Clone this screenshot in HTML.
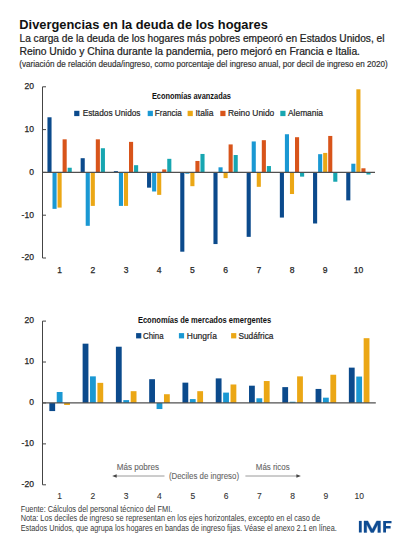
<!DOCTYPE html>
<html><head><meta charset="utf-8"><style>
html,body{margin:0;padding:0;background:#fff;width:411px;height:548px;overflow:hidden}
svg{display:block;font-family:"Liberation Sans",sans-serif}
</style></head><body>
<svg width="411" height="548" viewBox="0 0 411 548">
<rect width="411" height="548" fill="#fff"/>
<text x="19.3" y="28.6" font-size="13.7" fill="#111" font-weight="bold" textLength="248.5" lengthAdjust="spacingAndGlyphs">Divergencias en la deuda de los hogares</text>
<text x="19.5" y="42.4" font-size="10" fill="#222" textLength="365" lengthAdjust="spacingAndGlyphs" stroke="#222" stroke-width="0.22">La carga de la deuda de los hogares más pobres empeoró en Estados Unidos, el</text>
<text x="19.5" y="55.0" font-size="10" fill="#222" textLength="340.5" lengthAdjust="spacingAndGlyphs" stroke="#222" stroke-width="0.22">Reino Unido y China durante la pandemia, pero mejoró en Francia e Italia.</text>
<text x="19.3" y="67.1" font-size="8.2" fill="#333" textLength="368.5" lengthAdjust="spacingAndGlyphs" stroke="#333" stroke-width="0.18">(variación de relación deuda/ingreso, como porcentaje del ingreso anual, por decil de ingreso en 2020)</text>
<line x1="42.5" y1="86.8" x2="42.5" y2="258.0" stroke="#444" stroke-width="1"/>
<line x1="42.5" y1="86.8" x2="46.0" y2="86.8" stroke="#444" stroke-width="1"/>
<text x="33.9" y="89.1" font-size="8.5" fill="#262626" text-anchor="end" stroke="#262626" stroke-width="0.25">20</text>
<line x1="42.5" y1="129.6" x2="46.0" y2="129.6" stroke="#444" stroke-width="1"/>
<text x="33.9" y="131.9" font-size="8.5" fill="#262626" text-anchor="end" stroke="#262626" stroke-width="0.25">10</text>
<line x1="42.5" y1="172.4" x2="46.0" y2="172.4" stroke="#444" stroke-width="1"/>
<text x="33.9" y="174.70000000000002" font-size="8.5" fill="#262626" text-anchor="end" stroke="#262626" stroke-width="0.25">0</text>
<line x1="42.5" y1="215.20000000000002" x2="46.0" y2="215.20000000000002" stroke="#444" stroke-width="1"/>
<text x="33.9" y="217.50000000000003" font-size="8.5" fill="#262626" text-anchor="end" stroke="#262626" stroke-width="0.25">-10</text>
<line x1="42.5" y1="258.0" x2="46.0" y2="258.0" stroke="#444" stroke-width="1"/>
<text x="33.9" y="260.3" font-size="8.5" fill="#262626" text-anchor="end" stroke="#262626" stroke-width="0.25">-20</text>
<rect x="47.45" y="117.28" width="4.10" height="55.12" fill="#0B4A8C"/>
<rect x="52.50" y="172.40" width="4.10" height="36.46" fill="#1A98D3"/>
<rect x="57.55" y="172.40" width="4.10" height="35.19" fill="#EBA715"/>
<rect x="62.60" y="139.33" width="4.10" height="33.07" fill="#D8541A"/>
<rect x="67.65" y="167.74" width="4.10" height="4.66" fill="#17A6B1"/>
<text x="59.6" y="273" font-size="8.5" fill="#262626" text-anchor="middle" stroke="#262626" stroke-width="0.25">1</text>
<rect x="80.65" y="158.20" width="4.10" height="14.20" fill="#0B4A8C"/>
<rect x="85.70" y="172.40" width="4.10" height="53.42" fill="#1A98D3"/>
<rect x="90.75" y="172.40" width="4.10" height="33.50" fill="#EBA715"/>
<rect x="95.80" y="139.33" width="4.10" height="33.07" fill="#D8541A"/>
<rect x="100.85" y="148.23" width="4.10" height="24.17" fill="#17A6B1"/>
<text x="92.80000000000001" y="273" font-size="8.5" fill="#262626" text-anchor="middle" stroke="#262626" stroke-width="0.25">2</text>
<rect x="113.85" y="171.13" width="4.10" height="1.27" fill="#0B4A8C"/>
<rect x="118.90" y="172.40" width="4.10" height="33.50" fill="#1A98D3"/>
<rect x="123.95" y="172.40" width="4.10" height="33.50" fill="#EBA715"/>
<rect x="129.00" y="141.87" width="4.10" height="30.53" fill="#D8541A"/>
<rect x="134.05" y="165.19" width="4.10" height="7.21" fill="#17A6B1"/>
<text x="126.0" y="273" font-size="8.5" fill="#262626" text-anchor="middle" stroke="#262626" stroke-width="0.25">3</text>
<rect x="147.05" y="172.40" width="4.10" height="15.26" fill="#0B4A8C"/>
<rect x="152.10" y="172.40" width="4.10" height="19.08" fill="#1A98D3"/>
<rect x="157.15" y="172.40" width="4.10" height="22.47" fill="#EBA715"/>
<rect x="162.20" y="169.43" width="4.10" height="2.97" fill="#D8541A"/>
<rect x="167.25" y="158.83" width="4.10" height="13.57" fill="#17A6B1"/>
<text x="159.20000000000002" y="273" font-size="8.5" fill="#262626" text-anchor="middle" stroke="#262626" stroke-width="0.25">4</text>
<rect x="180.25" y="172.40" width="4.10" height="79.29" fill="#0B4A8C"/>
<rect x="185.30" y="172.40" width="4.10" height="1.27" fill="#1A98D3"/>
<rect x="190.35" y="172.40" width="4.10" height="13.78" fill="#EBA715"/>
<rect x="195.40" y="160.95" width="4.10" height="11.45" fill="#D8541A"/>
<rect x="200.45" y="153.96" width="4.10" height="18.44" fill="#17A6B1"/>
<text x="192.4" y="273" font-size="8.5" fill="#262626" text-anchor="middle" stroke="#262626" stroke-width="0.25">5</text>
<rect x="213.45" y="172.40" width="4.10" height="71.66" fill="#0B4A8C"/>
<rect x="218.50" y="167.31" width="4.10" height="5.09" fill="#1A98D3"/>
<rect x="223.55" y="172.40" width="4.10" height="5.72" fill="#EBA715"/>
<rect x="228.60" y="144.42" width="4.10" height="27.98" fill="#D8541A"/>
<rect x="233.65" y="155.02" width="4.10" height="17.38" fill="#17A6B1"/>
<text x="225.60000000000002" y="273" font-size="8.5" fill="#262626" text-anchor="middle" stroke="#262626" stroke-width="0.25">6</text>
<rect x="246.65" y="172.40" width="4.10" height="64.45" fill="#0B4A8C"/>
<rect x="251.70" y="141.45" width="4.10" height="30.95" fill="#1A98D3"/>
<rect x="256.75" y="172.40" width="4.10" height="14.42" fill="#EBA715"/>
<rect x="261.80" y="140.18" width="4.10" height="32.22" fill="#D8541A"/>
<rect x="266.85" y="166.04" width="4.10" height="6.36" fill="#17A6B1"/>
<text x="258.8" y="273" font-size="8.5" fill="#262626" text-anchor="middle" stroke="#262626" stroke-width="0.25">7</text>
<rect x="279.85" y="172.40" width="4.10" height="45.16" fill="#0B4A8C"/>
<rect x="284.90" y="134.24" width="4.10" height="38.16" fill="#1A98D3"/>
<rect x="289.95" y="172.40" width="4.10" height="21.62" fill="#EBA715"/>
<rect x="295.00" y="137.21" width="4.10" height="35.19" fill="#D8541A"/>
<rect x="300.05" y="172.40" width="4.10" height="4.24" fill="#17A6B1"/>
<text x="292.0" y="273" font-size="8.5" fill="#262626" text-anchor="middle" stroke="#262626" stroke-width="0.25">8</text>
<rect x="313.05" y="172.40" width="4.10" height="51.09" fill="#0B4A8C"/>
<rect x="318.10" y="154.17" width="4.10" height="18.23" fill="#1A98D3"/>
<rect x="323.15" y="152.90" width="4.10" height="19.50" fill="#EBA715"/>
<rect x="328.20" y="135.94" width="4.10" height="36.46" fill="#D8541A"/>
<rect x="333.25" y="172.40" width="4.10" height="9.33" fill="#17A6B1"/>
<text x="325.20000000000005" y="273" font-size="8.5" fill="#262626" text-anchor="middle" stroke="#262626" stroke-width="0.25">9</text>
<rect x="346.25" y="172.40" width="4.10" height="27.98" fill="#0B4A8C"/>
<rect x="351.30" y="163.71" width="4.10" height="8.69" fill="#1A98D3"/>
<rect x="356.35" y="89.30" width="4.10" height="83.10" fill="#EBA715"/>
<rect x="361.40" y="168.29" width="4.10" height="4.11" fill="#D8541A"/>
<rect x="366.45" y="172.40" width="4.10" height="2.12" fill="#17A6B1"/>
<text x="358.40000000000003" y="273" font-size="8.5" fill="#262626" text-anchor="middle" stroke="#262626" stroke-width="0.25">10</text>
<line x1="42.5" y1="172.4" x2="375" y2="172.4" stroke="#505050" stroke-width="1.2"/>
<text x="151.9" y="99.4" font-size="8.7" fill="#111" font-weight="bold" textLength="79" lengthAdjust="spacingAndGlyphs">Economías avanzadas</text>
<rect x="74.20" y="110.80" width="5.20" height="5.30" fill="#0B4A8C"/>
<text x="82.7" y="116.2" font-size="9.4" fill="#262626" textLength="57.8" lengthAdjust="spacingAndGlyphs" stroke="#262626" stroke-width="0.22">Estados Unidos</text>
<rect x="147.70" y="110.80" width="5.20" height="5.30" fill="#1A98D3"/>
<text x="154.7" y="116.2" font-size="9.4" fill="#262626" textLength="27.200000000000017" lengthAdjust="spacingAndGlyphs" stroke="#262626" stroke-width="0.22">Francia</text>
<rect x="187.60" y="110.80" width="5.20" height="5.30" fill="#EBA715"/>
<text x="195.5" y="116.2" font-size="9.4" fill="#262626" textLength="18" lengthAdjust="spacingAndGlyphs" stroke="#262626" stroke-width="0.22">Italia</text>
<rect x="220.30" y="110.80" width="5.20" height="5.30" fill="#D8541A"/>
<text x="228.0" y="116.2" font-size="9.4" fill="#262626" textLength="46.30000000000001" lengthAdjust="spacingAndGlyphs" stroke="#262626" stroke-width="0.22">Reino Unido</text>
<rect x="280.30" y="110.80" width="5.20" height="5.30" fill="#17A6B1"/>
<text x="288.0" y="116.2" font-size="9.4" fill="#262626" textLength="35.0" lengthAdjust="spacingAndGlyphs" stroke="#262626" stroke-width="0.22">Alemania</text>
<line x1="42.5" y1="321.09999999999997" x2="42.5" y2="484.8" stroke="#444" stroke-width="1"/>
<line x1="42.5" y1="321.09999999999997" x2="46.0" y2="321.09999999999997" stroke="#444" stroke-width="1"/>
<text x="33.9" y="323.4" font-size="8.5" fill="#262626" text-anchor="end" stroke="#262626" stroke-width="0.25">20</text>
<line x1="42.5" y1="362.025" x2="46.0" y2="362.025" stroke="#444" stroke-width="1"/>
<text x="33.9" y="364.325" font-size="8.5" fill="#262626" text-anchor="end" stroke="#262626" stroke-width="0.25">10</text>
<line x1="42.5" y1="402.95" x2="46.0" y2="402.95" stroke="#444" stroke-width="1"/>
<text x="33.9" y="405.25" font-size="8.5" fill="#262626" text-anchor="end" stroke="#262626" stroke-width="0.25">0</text>
<line x1="42.5" y1="443.875" x2="46.0" y2="443.875" stroke="#444" stroke-width="1"/>
<text x="33.9" y="446.175" font-size="8.5" fill="#262626" text-anchor="end" stroke="#262626" stroke-width="0.25">-10</text>
<line x1="42.5" y1="484.8" x2="46.0" y2="484.8" stroke="#444" stroke-width="1"/>
<text x="33.9" y="487.1" font-size="8.5" fill="#262626" text-anchor="end" stroke="#262626" stroke-width="0.25">-20</text>
<rect x="49.34" y="402.95" width="5.80" height="8.12" fill="#0B4A8C"/>
<rect x="56.74" y="391.99" width="5.80" height="10.96" fill="#1A98D3"/>
<rect x="64.14" y="402.95" width="5.80" height="2.03" fill="#EBA715"/>
<text x="59.64" y="499.3" font-size="8.5" fill="#333" text-anchor="middle" stroke="#333" stroke-width="0.1">1</text>
<rect x="82.62" y="343.67" width="5.80" height="59.28" fill="#0B4A8C"/>
<rect x="90.02" y="376.36" width="5.80" height="26.59" fill="#1A98D3"/>
<rect x="97.42" y="382.85" width="5.80" height="20.10" fill="#EBA715"/>
<text x="92.92" y="499.3" font-size="8.5" fill="#333" text-anchor="middle" stroke="#333" stroke-width="0.1">2</text>
<rect x="115.90" y="346.72" width="5.80" height="56.23" fill="#0B4A8C"/>
<rect x="123.30" y="400.11" width="5.80" height="2.84" fill="#1A98D3"/>
<rect x="130.70" y="391.18" width="5.80" height="11.77" fill="#EBA715"/>
<text x="126.2" y="499.3" font-size="8.5" fill="#333" text-anchor="middle" stroke="#333" stroke-width="0.1">3</text>
<rect x="149.18" y="379.20" width="5.80" height="23.75" fill="#0B4A8C"/>
<rect x="156.58" y="402.95" width="5.80" height="6.09" fill="#1A98D3"/>
<rect x="163.98" y="394.22" width="5.80" height="8.73" fill="#EBA715"/>
<text x="159.48000000000002" y="499.3" font-size="8.5" fill="#333" text-anchor="middle" stroke="#333" stroke-width="0.1">4</text>
<rect x="182.46" y="382.65" width="5.80" height="20.30" fill="#0B4A8C"/>
<rect x="189.86" y="399.09" width="5.80" height="3.86" fill="#1A98D3"/>
<rect x="197.26" y="391.18" width="5.80" height="11.77" fill="#EBA715"/>
<text x="192.76" y="499.3" font-size="8.5" fill="#333" text-anchor="middle" stroke="#333" stroke-width="0.1">5</text>
<rect x="215.74" y="378.39" width="5.80" height="24.56" fill="#0B4A8C"/>
<rect x="223.14" y="392.60" width="5.80" height="10.35" fill="#1A98D3"/>
<rect x="230.54" y="384.48" width="5.80" height="18.47" fill="#EBA715"/>
<text x="226.04000000000002" y="499.3" font-size="8.5" fill="#333" text-anchor="middle" stroke="#333" stroke-width="0.1">6</text>
<rect x="249.02" y="385.69" width="5.80" height="17.25" fill="#0B4A8C"/>
<rect x="256.42" y="398.28" width="5.80" height="4.67" fill="#1A98D3"/>
<rect x="263.82" y="381.03" width="5.80" height="21.92" fill="#EBA715"/>
<text x="259.32" y="499.3" font-size="8.5" fill="#333" text-anchor="middle" stroke="#333" stroke-width="0.1">7</text>
<rect x="282.30" y="387.12" width="5.80" height="15.83" fill="#0B4A8C"/>
<rect x="289.70" y="401.73" width="5.80" height="1.22" fill="#1A98D3"/>
<rect x="297.10" y="376.36" width="5.80" height="26.59" fill="#EBA715"/>
<text x="292.6" y="499.3" font-size="8.5" fill="#333" text-anchor="middle" stroke="#333" stroke-width="0.1">8</text>
<rect x="315.58" y="388.94" width="5.80" height="14.01" fill="#0B4A8C"/>
<rect x="322.98" y="397.67" width="5.80" height="5.28" fill="#1A98D3"/>
<rect x="330.38" y="374.73" width="5.80" height="28.22" fill="#EBA715"/>
<text x="325.88" y="499.3" font-size="8.5" fill="#333" text-anchor="middle" stroke="#333" stroke-width="0.1">9</text>
<rect x="348.86" y="367.63" width="5.80" height="35.32" fill="#0B4A8C"/>
<rect x="356.26" y="376.56" width="5.80" height="26.39" fill="#1A98D3"/>
<rect x="363.66" y="338.19" width="5.80" height="64.76" fill="#EBA715"/>
<text x="359.16" y="499.3" font-size="8.5" fill="#333" text-anchor="middle" stroke="#333" stroke-width="0.1">10</text>
<line x1="42.5" y1="402.95" x2="375.8" y2="402.95" stroke="#505050" stroke-width="1.2"/>
<text x="137.9" y="322.7" font-size="8.7" fill="#111" font-weight="bold" textLength="133.3" lengthAdjust="spacingAndGlyphs">Economías de mercados emergentes</text>
<rect x="136.10" y="333.10" width="5.20" height="5.30" fill="#0B4A8C"/>
<text x="143.0" y="338.5" font-size="9.4" fill="#262626" textLength="20.5" lengthAdjust="spacingAndGlyphs" stroke="#262626" stroke-width="0.22">China</text>
<rect x="178.90" y="333.10" width="5.20" height="5.30" fill="#1A98D3"/>
<text x="186.8" y="338.5" font-size="9.4" fill="#262626" textLength="30.099999999999994" lengthAdjust="spacingAndGlyphs" stroke="#262626" stroke-width="0.22">Hungría</text>
<rect x="231.10" y="333.10" width="5.20" height="5.30" fill="#EBA715"/>
<text x="238.4" y="338.5" font-size="9.4" fill="#262626" textLength="35.099999999999994" lengthAdjust="spacingAndGlyphs" stroke="#262626" stroke-width="0.22">Sudáfrica</text>
<text x="116.8" y="470" font-size="8.8" fill="#666" textLength="42.3" lengthAdjust="spacingAndGlyphs" stroke="#666" stroke-width="0.1">Más pobres</text>
<text x="255.8" y="470" font-size="8.8" fill="#666" textLength="33.9" lengthAdjust="spacingAndGlyphs" stroke="#666" stroke-width="0.1">Más ricos</text>
<text x="168.9" y="478.6" font-size="8.8" fill="#666" textLength="70.2" lengthAdjust="spacingAndGlyphs" stroke="#666" stroke-width="0.1">(Deciles de ingreso)</text>
<line x1="115" y1="476.0" x2="164.5" y2="476.0" stroke="#9a9a9a" stroke-width="1"/>
<path d="M112.2 476 L116.7 474.3 L116.7 477.7 Z" fill="#444"/>
<line x1="245.4" y1="476.0" x2="298" y2="476.0" stroke="#9a9a9a" stroke-width="1"/>
<path d="M300.9 476 L296.4 474.3 L296.4 477.7 Z" fill="#444"/>
<text x="20.7" y="511.7" font-size="8.2" fill="#3a3a3a" textLength="151.6" lengthAdjust="spacingAndGlyphs">Fuente: Cálculos del personal técnico del FMI.</text>
<text x="20.7" y="521.3" font-size="8.2" fill="#3a3a3a" textLength="299.4" lengthAdjust="spacingAndGlyphs">Nota: Los deciles de ingreso se representan en los ejes horizontales, excepto en el caso de</text>
<text x="20.7" y="530.7" font-size="8.2" fill="#3a3a3a" textLength="316.1" lengthAdjust="spacingAndGlyphs">Estados Unidos, que agrupa los hogares en bandas de ingreso fijas. Véase el anexo 2.1 en línea.</text>
<rect x="358.90" y="520.90" width="2.80" height="11.60" fill="#0E4B92"/>
<path d="M364 532.5 L364 520.9 L367.9 520.9 L372.25 529.3 L376.6 520.9 L380.5 520.9 L380.5 532.5 L377.8 532.5 L377.8 524.6 L373.6 532.5 L370.9 532.5 L366.7 524.6 L366.7 532.5 Z" fill="#0E4B92" stroke="#0E4B92" stroke-width="0.35" stroke-linejoin="miter"/>
<path d="M383.2 520.9 L391.5 520.9 L391.5 523.3 L386 523.3 L386 526.1 L390.6 526.1 L390.6 528.4 L386 528.4 L386 532.5 L383.2 532.5 Z" fill="#0E4B92"/>
</svg>
</body></html>
